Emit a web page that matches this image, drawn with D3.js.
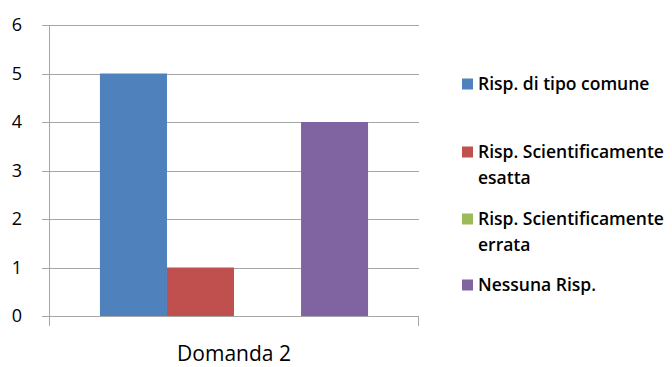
<!DOCTYPE html>
<html>
<head>
<meta charset="utf-8">
<script src="https://cdn.jsdelivr.net/npm/d3@7"></script>
<style>
body { margin: 0; background: #fff; }
text { font-family: "Open Sans", "Liberation Sans", sans-serif; fill: #000; }
</style>
</head>
<body>
<script>
var width = 672,
	height = 367;

// data
var categories = ["Domanda 2"];
var seriesNames = ["Risp. di tipo comune", "Risp. Scientificamente esatta", "Risp. Scientificamente errata", "Nessuna Risp."];
var legendLines = [["Risp. di tipo comune"], ["Risp. Scientificamente", "esatta"], ["Risp. Scientificamente", "errata"], ["Nessuna Risp."]];
var seriesValues = [5, 1, 0, 4];
var seriesColors = ["#4F81BD", "#C0504D", "#9BBB59", "#8064A2"];
var yTicks = [0, 1, 2, 3, 4, 5, 6];

var svg = d3.select("body").append("svg")
	.attr("width", width)
	.attr("height", height)
	.style("display", "block");

var plotLeft = 49, plotRight = 419, plotTop = 25, plotBottom = 316;

var y = d3.scaleLinear().domain([0, 6]).range([plotBottom, plotTop]);
var x0 = d3.scaleBand().domain(categories).range([plotLeft, plotRight]).paddingInner(0).paddingOuter(0.19);
var x1 = d3.scaleBand().domain(seriesNames).range([0, x0.bandwidth()]);

// gridlines
svg.append("g")
	.selectAll("line")
	.data(yTicks)
	.enter().append("line")
	.attr("x1", plotLeft - 7)
	.attr("x2", plotRight)
	.attr("y1", function(d) { return Math.round(y(d)) + 0.5; })
	.attr("y2", function(d) { return Math.round(y(d)) + 0.5; })
	.attr("stroke", "#a6a6a6")
	.attr("stroke-width", 1);

// y axis line
svg.append("line")
	.attr("x1", plotLeft + 0.5).attr("x2", plotLeft + 0.5)
	.attr("y1", plotTop).attr("y2", plotBottom + 10)
	.attr("stroke", "#a6a6a6");

// right tick on x axis
svg.append("line")
	.attr("x1", plotRight - 0.5).attr("x2", plotRight - 0.5)
	.attr("y1", plotBottom).attr("y2", plotBottom + 10)
	.attr("stroke", "#a6a6a6");

// y labels
svg.append("g")
	.selectAll("text")
	.data(yTicks)
	.enter().append("text")
	.attr("x", 22)
	.attr("y", function(d) { return y(d); })
	.attr("dy", "0.36em")
	.attr("text-anchor", "end")
	.style("font-size", "18px")
	.text(function(d) { return d; });

// bars
var g = svg.append("g");
categories.forEach(function(c) {
	g.selectAll(".bar")
		.data(seriesValues)
		.enter().append("rect")
		.attr("class", "bar")
		.attr("x", function(d, i) { return x0(c) + x1(seriesNames[i]); })
		.attr("width", x1.bandwidth())
		.attr("y", function(d) { return y(d); })
		.attr("height", function(d) { return y(0) - y(d); })
		.attr("fill", function(d, i) { return seriesColors[i]; });
});

// category label
svg.append("text")
	.attr("x", x0(categories[0]) + x0.bandwidth() / 2)
	.attr("y", 361)
	.attr("text-anchor", "middle")
	.style("font-size", "21px")
	.text(categories[0]);

// legend
var legendY = [84, 152, 219, 285];
var leg = svg.append("g");
seriesNames.forEach(function(s, i) {
	leg.append("rect")
		.attr("x", 462)
		.attr("y", legendY[i] - 5.5)
		.attr("width", 11)
		.attr("height", 11)
		.attr("fill", seriesColors[i]);
	var t = leg.append("text")
		.attr("x", 478)
		.attr("y", legendY[i])
		.style("font-size", "17.5px")
		.style("font-weight", "600");
	legendLines[i].forEach(function(line, j) {
		t.append("tspan")
			.attr("x", 478)
			.attr("dy", j === 0 ? "0.36em" : "26px")
			.text(line);
	});
});
</script>
</body>
</html>
